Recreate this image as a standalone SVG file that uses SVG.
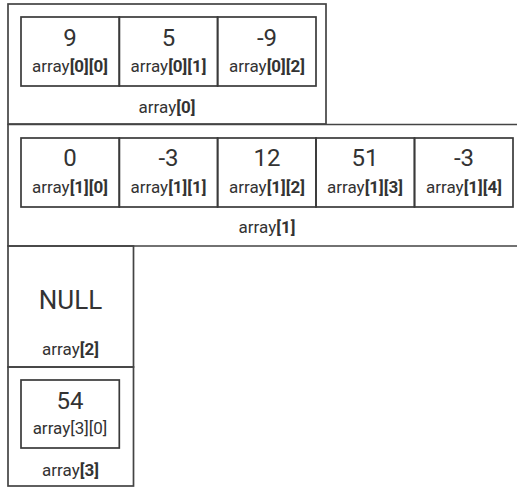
<svg xmlns="http://www.w3.org/2000/svg" width="517" height="487" viewBox="0 0 517 487">
  <style>
    .frame { fill: none; stroke: #444; stroke-width: 1.7; }
    .cell { fill: none; stroke: #3a3a3a; stroke-width: 1.7; }
    .val { font-family: Roboto, "Liberation Sans", sans-serif; font-size: 24px; fill: #333; text-anchor: middle; }
    .lbl { font-family: Roboto, "Liberation Sans", sans-serif; font-size: 17px; fill: #333; text-anchor: middle; }
    .b { font-weight: bold; }
  </style>
  <rect width="517" height="487" fill="#fff"/>

  <!-- array[0]: three elements -->
  <g id="row0">
    <rect class="frame" x="8" y="4" width="318" height="120"/>
    <rect class="cell" x="21" y="17" width="98.3" height="69"/>
    <rect class="cell" x="119.3" y="17" width="98.3" height="69"/>
    <rect class="cell" x="217.6" y="17" width="98.4" height="69"/>
    <text class="val" x="70" y="46">9</text>
    <text class="lbl" x="70" y="72">array<tspan class="b">[0][0]</tspan></text>
    <text class="val" x="168.5" y="46">5</text>
    <text class="lbl" x="168.5" y="72">array<tspan class="b">[0][1]</tspan></text>
    <text class="val" x="267" y="46">-9</text>
    <text class="lbl" x="267" y="72">array<tspan class="b">[0][2]</tspan></text>
    <text class="lbl" x="167" y="113">array<tspan class="b">[0]</tspan></text>
  </g>

  <!-- array[1]: five elements -->
  <g id="row1">
    <path class="frame" d="M517 124.5 H8 V246 H517"/>
    <rect class="cell" x="21" y="138" width="98.3" height="69"/>
    <rect class="cell" x="119.3" y="138" width="98.3" height="69"/>
    <rect class="cell" x="217.6" y="138" width="98.4" height="69"/>
    <rect class="cell" x="316" y="138" width="98.5" height="69"/>
    <rect class="cell" x="414.5" y="138" width="98.5" height="69"/>
    <text class="val" x="70" y="166">0</text>
    <text class="lbl" x="70" y="193">array<tspan class="b">[1][0]</tspan></text>
    <text class="val" x="168.5" y="166">-3</text>
    <text class="lbl" x="168.5" y="193">array<tspan class="b">[1][1]</tspan></text>
    <text class="val" x="267" y="166">12</text>
    <text class="lbl" x="267" y="193">array<tspan class="b">[1][2]</tspan></text>
    <text class="val" x="365" y="166">51</text>
    <text class="lbl" x="365" y="193">array<tspan class="b">[1][3]</tspan></text>
    <text class="val" x="464" y="166">-3</text>
    <text class="lbl" x="464" y="193">array<tspan class="b">[1][4]</tspan></text>
    <text class="lbl" x="267" y="233">array<tspan class="b">[1]</tspan></text>
  </g>

  <!-- array[2]: empty row -->
  <g id="row2">
    <rect class="frame" x="8" y="246" width="125.5" height="121"/>
    <text class="val" x="70.5" y="309" style="font-size:26px">NULL</text>
    <text class="lbl" x="70.5" y="355">array<tspan class="b">[2]</tspan></text>
  </g>

  <!-- array[3]: single element -->
  <g id="row3">
    <rect class="frame" x="8" y="367" width="125.5" height="119"/>
    <rect class="cell" x="21" y="380" width="98.3" height="68"/>
    <text class="val" x="70" y="409">54</text>
    <text class="lbl" x="70" y="434">array[3][0]</text>
    <text class="lbl" x="70.5" y="476">array<tspan class="b">[3]</tspan></text>
  </g>

  <g id="connectors"/>
</svg>
